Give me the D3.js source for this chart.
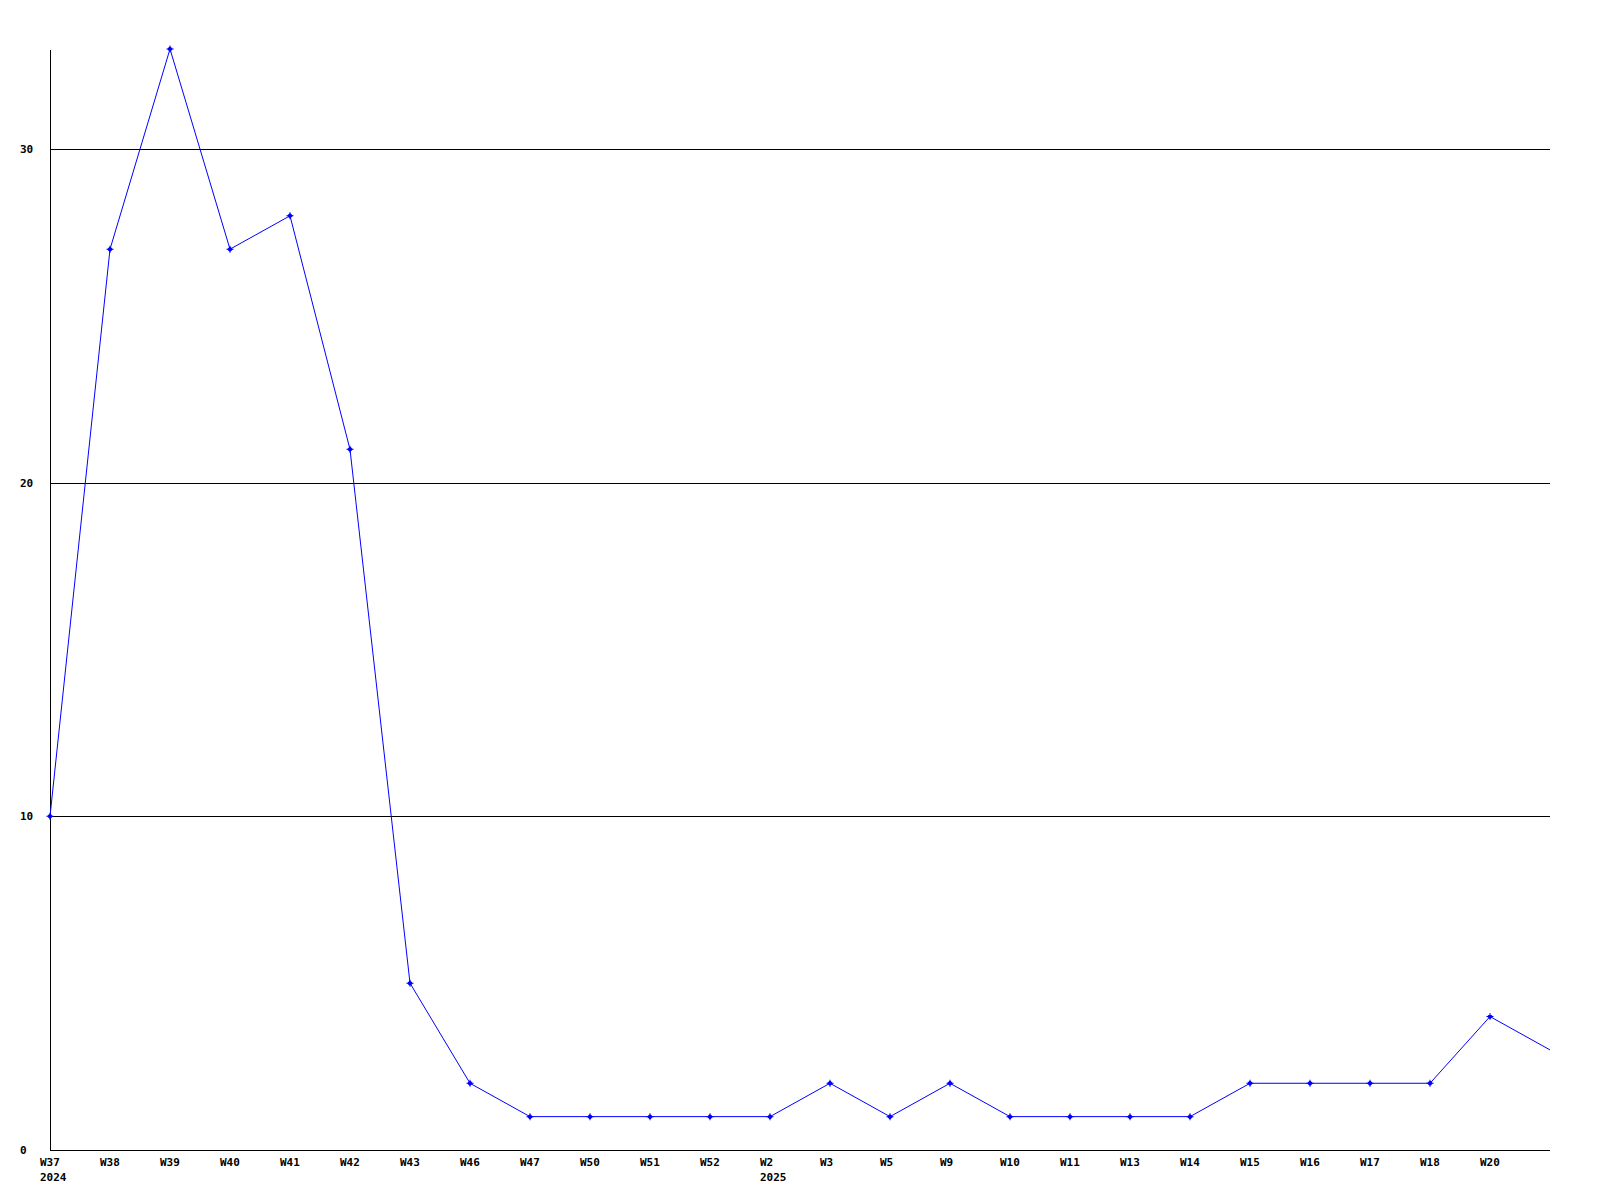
<!DOCTYPE html>
<html><head><meta charset="utf-8">
<script src="https://cdn.jsdelivr.net/npm/d3@7"></script>
<style>
html,body{margin:0;padding:0;background:#fff;}
svg text{font-family:"DejaVu Sans Mono","Liberation Mono",monospace;font-weight:bold;font-size:11px;fill:#000;}
</style></head>
<body>
<script>
const weeks = ["W37","W38","W39","W40","W41","W42","W43","W46","W47","W50","W51","W52","W2","W3","W5","W9","W10","W11","W13","W14","W15","W16","W17","W18","W20",""];
const years = ["2024","","","","","","","","","","","","2025","","","","","","","","","","","","",""];
const values = [10,27,33,27,28,21,5,2,1,1,1,1,1,2,1,2,1,1,1,1,2,2,2,2,4,3];
const yTicks = [0,10,20,30];

const W = 1600, H = 1200;
const mLeft = 50, mRight = 1550, mTop = 49, mBottom = 1150;

const svg = d3.select("body").append("svg").attr("width", W).attr("height", H);

const x = d3.scalePoint().domain(d3.range(values.length)).range([mLeft, mRight]);
const y = d3.scaleLinear().domain([0, 33]).range([mBottom, mTop]);

// gridlines
svg.append("g").selectAll("line").data(yTicks.filter(d => d > 0)).join("line")
  .attr("x1", mLeft).attr("x2", mRight)
  .attr("y1", d => Math.round(y(d)) + 0.5).attr("y2", d => Math.round(y(d)) + 0.5)
  .attr("stroke", "#000").attr("stroke-width", 1).attr("shape-rendering", "crispEdges");

// axes lines
svg.append("line").attr("x1", mLeft + 0.5).attr("x2", mLeft + 0.5).attr("y1", mTop + 1).attr("y2", mBottom + 1)
  .attr("stroke", "#000").attr("shape-rendering", "crispEdges");
svg.append("line").attr("x1", mLeft).attr("x2", mRight).attr("y1", mBottom + 0.5).attr("y2", mBottom + 0.5)
  .attr("stroke", "#000").attr("shape-rendering", "crispEdges");

// y labels
svg.append("g").selectAll("text").data(yTicks).join("text")
  .attr("x", 20).attr("y", d => Math.round(y(d)) + 4).text(d => d);

// x labels
const xl = svg.append("g");
xl.selectAll("text.wk").data(weeks.map((w, i) => ({w, i})).filter(d => d.w)).join("text")
  .attr("class", "wk").attr("x", d => x(d.i) - 10).attr("y", 1166).text(d => d.w);
xl.selectAll("text.yr").data(years.map((w, i) => ({w, i})).filter(d => d.w)).join("text")
  .attr("class", "yr").attr("x", d => x(d.i) - 10).attr("y", 1181).text(d => d.w);

// line
const line = d3.line().x((d, i) => x(i)).y(d => y(d));
svg.append("path").datum(values).attr("d", line)
  .attr("fill", "none").attr("stroke", "#0000ff").attr("stroke-width", 1);

// markers
svg.append("g").selectAll("path").data(values.slice(0, values.length - 1)).join("path")
  .attr("transform", (d, i) => `translate(${x(i)},${y(d)})`)
  .attr("d", "M-3,0L0,-3L3,0L0,3Z M-0.5,-3.5h1v7h-1Z M-3.5,-0.5h7v1h-7Z")
  .attr("fill", "#0000ff");
</script>
</body></html>
